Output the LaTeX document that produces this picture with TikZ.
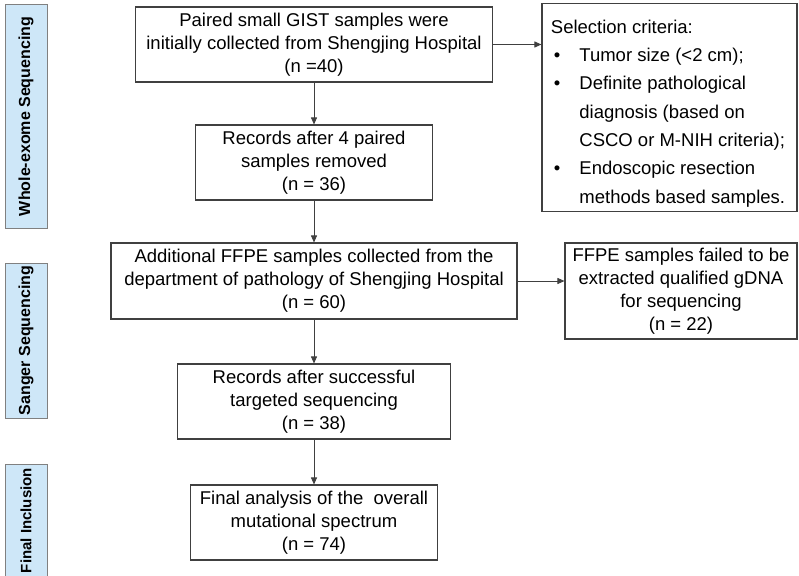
\documentclass[tikz,border=0pt]{standalone}
\usepackage{fontspec}
\setmainfont{Liberation Sans}
\usepackage{xcolor}
\definecolor{barfill}{RGB}{206,231,248}
\definecolor{edge}{RGB}{64,64,64}
\definecolor{baredge}{RGB}{128,128,128}
\usepackage{tikz}
\usetikzlibrary{arrows.meta, positioning}

\begin{document}
\begin{tikzpicture}[x=1pt, y=-1pt,
    stagebox/.style={draw=edge, line width=1.1pt, align=center, inner sep=0pt,
        font=\fontsize{18.5}{23}\selectfont},
    phasebar/.style={draw=baredge, fill=barfill, line width=1pt, rotate=90,
        inner sep=0pt, minimum height=42pt, font=\bfseries\fontsize{16}{19}\selectfont},
    flow/.style={draw=edge, line width=0.9pt, -{Triangle[length=7pt,width=6pt]}}]
    % Page frame
    \useasboundingbox (0,0) rectangle (799,575);
    \clip (0,0) rectangle (799,575);

    % Phase bars on the left
    \node[phasebar, minimum width=223pt] (wes) at (26,116.5) {Whole-exome Sequencing};
    \node[phasebar, minimum width=155pt] (sanger) at (26,340.5) {Sanger Sequencing};
    \node[phasebar, minimum width=112pt, font=\bfseries\fontsize{15}{18}\selectfont] (final) at (26,520.5) {Final Inclusion};

    % Main flow boxes
    \node[stagebox, minimum width=357pt, minimum height=75pt] (paired) at (314,44.5)
        {Paired small GIST samples were\\initially collected from Shengjing Hospital\\(n =40)};
    \node[stagebox, minimum width=237pt, minimum height=75pt] (removed) at (314,162.5)
        {Records after 4 paired\\samples removed\\(n = 36)};
    \node[stagebox, minimum width=406pt, minimum height=76pt] (ffpe) at (314,281)
        {Additional FFPE samples collected from the\\department of pathology of Shengjing Hospital\\(n = 60)};
    \node[stagebox, minimum width=273pt, minimum height=75pt] (targeted) at (314,401.5)
        {Records after successful\\targeted sequencing\\(n = 38)};
    \node[stagebox, minimum width=247pt, minimum height=75pt] (spectrum) at (314,522.5)
        {Final analysis of the~ overall\\mutational spectrum\\(n = 74)};

    % Side boxes
    \node[stagebox, minimum width=255pt, minimum height=203pt, font=\fontsize{18.5}{28.3}\selectfont] (criteria) at (669.5,107.5)
        {\begin{tabular}{@{}l@{\hspace{19pt}}l@{}}
            \multicolumn{2}{@{}l@{}}{\hspace{-3pt}\rule{0pt}{30pt}Selection criteria:}\\
            \textbullet & Tumor size (<2 cm);\\
            \textbullet & Definite pathological\\
                        & diagnosis (based on\\
                        & CSCO or M-NIH criteria);\\
            \textbullet & Endoscopic resection\\
                        & methods based samples.
        \end{tabular}};
    \node[stagebox, minimum width=232pt, minimum height=96pt] (failed) at (681,291)
        {FFPE samples failed to be\\extracted qualified gDNA\\for sequencing\\(n = 22)};

    % Arrows
    \draw[flow] (paired) -- (removed);
    \draw[flow] (removed) -- (ffpe);
    \draw[flow] (ffpe) -- (targeted);
    \draw[flow] (targeted) -- (spectrum);
    \draw[flow] (paired.east) -- (paired.east -| criteria.west);
    \draw[flow] (ffpe.east) -- (ffpe.east -| failed.west);
\end{tikzpicture}
\end{document}
